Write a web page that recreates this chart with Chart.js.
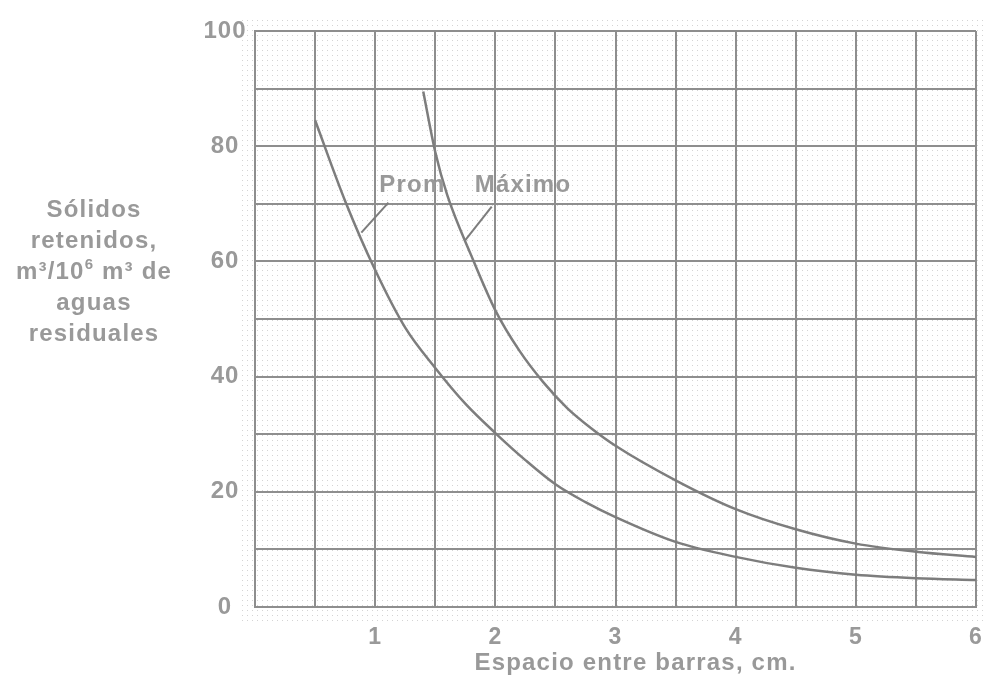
<!DOCTYPE html>
<html>
<head>
<meta charset="utf-8">
<script src="https://cdn.jsdelivr.net/npm/chart.js@4/dist/chart.umd.min.js"></script>
<style>
  html, body { margin: 0; padding: 0; background: #fff; }
</style>
</head>
<body>
<canvas id="chart" width="986" height="679"></canvas>
<script>
/* ---------- datos ---------- */
// Curva promedio
const promX = [0.5, 0.75, 1, 1.25, 1.5, 1.75, 2, 2.25, 2.5, 2.75, 3, 3.5, 4, 4.5, 5, 5.5, 6];
const promY = [84.5, 70.5, 58.5, 48.5, 41.5, 35.3, 30.2, 25.5, 21.3, 18.2, 15.6, 11.3, 8.7, 6.8, 5.6, 5.0, 4.7];
// Curva maxima
const maxX = [1.4, 1.5, 1.6, 1.8, 2, 2.2, 2.4, 2.6, 2.8, 3, 3.5, 4, 4.5, 5, 5.5, 6];
const maxY = [89.5, 79, 71.5, 61, 51.5, 44.5, 39, 34.5, 31, 28, 22, 17, 13.5, 11, 9.6, 8.7];
// Lineas guia de las etiquetas
const promLeadX = [0.885, 1.11];
const promLeadY = [65, 70.2];
const maxLeadX = [1.75, 1.97];
const maxLeadY = [63.7, 69.5];
// Etiquetas de curva
const curveLabels = ['Prom', 'Máximo'];
const xTicks = [1, 2, 3, 4, 5, 6];
const yTicks = [0, 20, 40, 60, 80, 100];

const GRAY_TXT = '#999';
const GRAY_LINE = '#8e8e8e';
const GRAY_CURVE = '#7d7d7d';
const FONT = "'Liberation Sans', Arial, sans-serif";

const pts = (xs, ys) => xs.map((x, i) => ({ x, y: ys[i] }));

// posiciones de texto (en unidades de datos)
const labelPos = [{ x: 1.31, y: 73.2 }, { x: 2.23, y: 73.2 }];

const paperPlugin = {
  id: 'paper',
  beforeDraw(chart) {
    const { ctx, chartArea: a } = chart;
    ctx.save();
    ctx.fillStyle = '#fff';
    ctx.fillRect(0, 0, chart.width, chart.height);
    ctx.fillStyle = 'rgba(0,0,0,0.17)';
    for (let x = a.left - 13; x < chart.width; x += 5)
      for (let y = a.top - 11; y < a.bottom + 14; y += 5) ctx.fillRect(x, y, 1, 1);
    ctx.restore();
    ctx.letterSpacing = '1px';
  },
  afterDraw(chart) {
    const { ctx, chartArea: a, scales } = chart;
    ctx.save();
    ctx.fillStyle = GRAY_TXT;
    ctx.letterSpacing = '1.2px';

    // etiquetas Prom / Maximo
    ctx.font = 'bold 24px ' + FONT;
    ctx.textAlign = 'center';
    ctx.textBaseline = 'middle';
    curveLabels.forEach((t, i) => {
      ctx.fillText(t, scales.x.getPixelForValue(labelPos[i].x), scales.y.getPixelForValue(labelPos[i].y));
    });

    // titulo eje x
    ctx.textBaseline = 'alphabetic';
    ctx.fillText('Espacio entre barras, cm.', (a.left + a.right) / 2 + 20, a.bottom + 63);

    // titulo eje y (horizontal, varias lineas)
    const cx = 94, base = 216.5, lh = 31;
    ctx.fillText('Sólidos', cx, base);
    ctx.fillText('retenidos,', cx, base + lh);
    ctx.textAlign = 'left';
    const big = 'bold 24px ' + FONT, small = 'bold 15px ' + FONT;
    ctx.font = big; const w1 = ctx.measureText('m³/10').width;
    ctx.font = small; const w2 = ctx.measureText('6').width;
    ctx.font = big; const w3 = ctx.measureText(' m³ de').width;
    const x0 = cx - (w1 + w2 + w3) / 2;
    const y3 = base + 2 * lh;
    ctx.fillText('m³/10', x0, y3);
    ctx.font = small; ctx.fillText('6', x0 + w1, y3 - 10);
    ctx.font = big; ctx.fillText(' m³ de', x0 + w1 + w2, y3);
    ctx.textAlign = 'center';
    ctx.fillText('aguas', cx, base + 3 * lh);
    ctx.fillText('residuales', cx, base + 4 * lh);
    ctx.restore();
  }
};

const lineDs = (data, width, smooth) => ({
  data, borderColor: GRAY_CURVE, borderWidth: width, pointRadius: 0,
  fill: false, cubicInterpolationMode: smooth ? 'monotone' : 'default', tension: 0
});

new Chart(document.getElementById('chart'), {
  type: 'line',
  data: {
    datasets: [
      lineDs(pts(promX, promY), 2.5, true),
      lineDs(pts(maxX, maxY), 2.5, true),
      lineDs(pts(promLeadX, promLeadY), 2, false),
      lineDs(pts(maxLeadX, maxLeadY), 2, false)
    ]
  },
  options: {
    responsive: false,
    animation: false,
    layout: { padding: { top: 31, right: 10, left: 0, bottom: 0 } },
    plugins: { legend: { display: false }, tooltip: { enabled: false } },
    scales: {
      x: {
        type: 'linear', min: 0, max: 6,
        afterFit: s => { s.height = 72; s.paddingLeft = 0; s.paddingRight = 0; },
        grid: { color: GRAY_LINE, lineWidth: 2, drawTicks: false },
        border: { color: GRAY_LINE, width: 2 },
        ticks: {
          stepSize: 0.5, autoSkip: false, maxRotation: 0, padding: 17,
          color: GRAY_TXT, font: { family: FONT, size: 23, weight: 'bold' },
          callback: v => xTicks.includes(v) ? String(v) : ''
        }
      },
      y: {
        min: 0, max: 100,
        afterFit: s => { s.width = 255; s.paddingTop = 0; s.paddingBottom = 0; },
        grid: { color: GRAY_LINE, lineWidth: 2, drawTicks: false },
        border: { color: GRAY_LINE, width: 2 },
        ticks: {
          stepSize: 10, padding: 10, crossAlign: 'center',
          color: GRAY_TXT, font: { family: FONT, size: 24, weight: 'bold' },
          callback: v => yTicks.includes(v) ? String(v) : ''
        }
      }
    }
  },
  plugins: [paperPlugin]
});
</script>
</body>
</html>
